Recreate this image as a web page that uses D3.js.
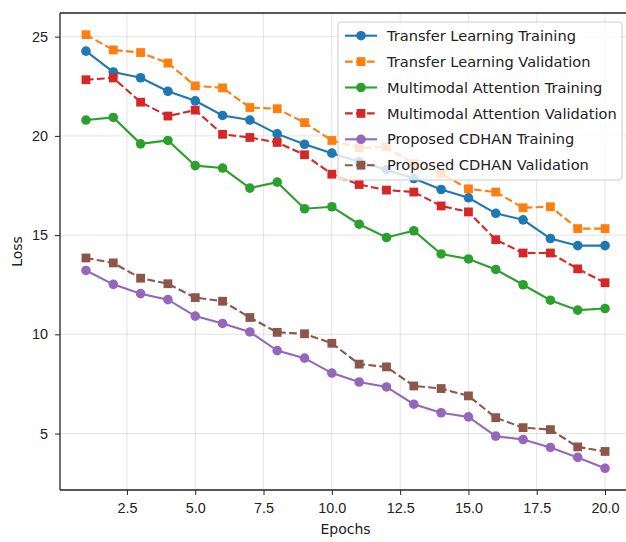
<!DOCTYPE html>
<html>
<head>
<meta charset="utf-8">
<script src="https://cdn.jsdelivr.net/npm/d3@7"></script>
<style>
    body { margin: 0; background: #fff; overflow: hidden; }
    svg { font-family: "DejaVu Sans", sans-serif; display: block; overflow: hidden; }
    .axis text { font-size: 14.4px; fill: #222; }
    .axis line, .axis path { stroke: #222; }
    .grid line { stroke: #b0b0b0; stroke-opacity: 0.45; stroke-width: 0.8; }
</style>
</head>
<body>
<div id="chart"></div>
<script>
const epochs = [1, 2, 3, 4, 5, 6, 7, 8, 9, 10, 11, 12, 13, 14, 15, 16, 17, 18, 19, 20];

const transferTrain = [24.27, 23.22, 22.93, 22.25, 21.77, 21.03, 20.80, 20.10, 19.58, 19.13,
                       18.70, 18.30, 17.85, 17.30, 16.88, 16.10, 15.77, 14.83, 14.47, 14.47];
const transferVal = [25.10, 24.33, 24.20, 23.67, 22.52, 22.42, 21.43, 21.37, 20.67, 19.77,
                     19.40, 19.45, 18.60, 18.10, 17.33, 17.17, 16.38, 16.43, 15.33, 15.33];
const multiTrain = [20.80, 20.93, 19.60, 19.77, 18.50, 18.38, 17.37, 17.67, 16.33, 16.43,
                    15.55, 14.88, 15.22, 14.05, 13.80, 13.27, 12.50, 11.72, 11.22, 11.30];
const multiVal = [22.83, 22.92, 21.70, 21.00, 21.30, 20.08, 19.92, 19.67, 19.05, 18.07,
                  17.55, 17.27, 17.17, 16.47, 16.17, 14.77, 14.10, 14.10, 13.30, 12.60];
const cdhanTrain = [13.22, 12.52, 12.05, 11.75, 10.92, 10.55, 10.12, 9.18, 8.80, 8.05,
                    7.60, 7.35, 6.48, 6.05, 5.84, 4.87, 4.70, 4.30, 3.80, 3.25];
const cdhanVal = [13.85, 13.60, 12.83, 12.55, 11.85, 11.67, 10.85, 10.10, 10.03, 9.55,
                  8.50, 8.36, 7.40, 7.27, 6.90, 5.80, 5.30, 5.20, 4.33, 4.10];

const seriesNames = [
    "Transfer Learning Training", "Transfer Learning Validation",
    "Multimodal Attention Training", "Multimodal Attention Validation",
    "Proposed CDHAN Training", "Proposed CDHAN Validation"
];
const seriesValues = [transferTrain, transferVal, multiTrain, multiVal, cdhanTrain, cdhanVal];
const seriesColors = ["#1f77b4", "#ff7f0e", "#2ca02c", "#d62728", "#9467bd", "#8c564b"];

const xTicks = [2.5, 5.0, 7.5, 10.0, 12.5, 15.0, 17.5, 20.0];
const yTicks = [5, 10, 15, 20, 25];

class LossCurvesChart {
    constructor(parentElement) {
        this.parentElement = parentElement;
        this.margin = {top: 13, right: -5, bottom: 52, left: 60};
        this.initVis();
    }

    initVis() {
        const vis = this;

        vis.series = seriesNames.map((name, i) => ({
            name: name,
            color: seriesColors[i],
            validation: name.endsWith("Validation"),
            values: epochs.map((e, j) => ({epoch: e, loss: seriesValues[i][j]}))
        }));

        const totalW = 626, totalH = 542;
        // axes run slightly past the right edge, like the cropped original
        vis.width = totalW - vis.margin.left - vis.margin.right;
        vis.height = totalH - vis.margin.top - vis.margin.bottom;

        const root = d3.select(`#${vis.parentElement}`).append("svg")
            .attr("width", totalW)
            .attr("height", totalH);

        vis.svg = root.append("g")
            .attr("transform", `translate(${vis.margin.left},${vis.margin.top})`);

        // matplotlib-style 5% padding
        const xExt = d3.extent(epochs);
        const xPad = (xExt[1] - xExt[0]) * 0.05;
        const allLoss = seriesValues.flat();
        const yExt = d3.extent(allLoss);
        const yPad = (yExt[1] - yExt[0]) * 0.05;

        vis.x = d3.scaleLinear()
            .domain([xExt[0] - xPad, xExt[1] + xPad])
            .range([0, vis.width]);
        vis.y = d3.scaleLinear()
            .domain([yExt[0] - yPad, yExt[1] + yPad])
            .range([vis.height, 0]);

        const grid = vis.svg.append("g")
            .attr("class", "grid");

        grid.selectAll("line.gx")
            .data(xTicks)
            .join("line")
            .attr("class", "gx")
            .attr("x1", d => vis.x(d)).attr("x2", d => vis.x(d))
            .attr("y1", 0).attr("y2", vis.height);

        grid.selectAll("line.gy")
            .data(yTicks)
            .join("line")
            .attr("class", "gy")
            .attr("x1", 0).attr("x2", vis.width)
            .attr("y1", d => vis.y(d)).attr("y2", d => vis.y(d));

        vis.line = d3.line()
            .x(d => vis.x(d.epoch))
            .y(d => vis.y(d.loss));

        const groups = vis.svg.selectAll(".series")
            .data(vis.series)
            .join("g")
            .attr("class", "series");

        groups.append("path")
            .attr("fill", "none")
            .attr("stroke", d => d.color)
            .attr("stroke-width", 2.1)
            .attr("stroke-dasharray", d => d.validation ? "7.7,3.3" : null)
            .attr("d", d => vis.line(d.values));

        groups.each(function(s) {
            const g = d3.select(this);
            if (s.validation) {
                g.selectAll("rect")
                    .data(s.values)
                    .join("rect")
                    .attr("x", d => vis.x(d.epoch) - 4.4)
                    .attr("y", d => vis.y(d.loss) - 4.4)
                    .attr("width", 8.8)
                    .attr("height", 8.8)
                    .attr("fill", s.color);
            } else {
                g.selectAll("circle")
                    .data(s.values)
                    .join("circle")
                    .attr("cx", d => vis.x(d.epoch))
                    .attr("cy", d => vis.y(d.loss))
                    .attr("r", 4.8)
                    .attr("fill", s.color);
            }
        });

        vis.svg.append("g")
            .attr("class", "axis x-axis")
            .attr("transform", `translate(0,${vis.height})`)
            .call(d3.axisBottom(vis.x)
                .tickValues(xTicks)
                .tickSize(5)
                .tickPadding(8)
                .tickFormat(d3.format(".1f")))
            .call(g => g.select(".domain").remove());

        vis.svg.append("g")
            .attr("class", "axis y-axis")
            .call(d3.axisLeft(vis.y)
                .tickValues(yTicks)
                .tickSize(5)
                .tickPadding(7))
            .call(g => g.select(".domain").remove());

        // spines: left, top, bottom (right one falls outside the crop)
        const spine = vis.svg.append("g")
            .attr("stroke", "#222")
            .attr("stroke-width", 1.3);
        spine.append("line").attr("x1", 0).attr("x2", 0).attr("y1", 0).attr("y2", vis.height);
        spine.append("line").attr("x1", 0).attr("x2", vis.width).attr("y1", 0).attr("y2", 0);
        spine.append("line").attr("x1", 0).attr("x2", vis.width).attr("y1", vis.height).attr("y2", vis.height);

        vis.svg.append("text")
            .attr("x", vis.width / 2)
            .attr("y", vis.height + 44)
            .attr("text-anchor", "middle")
            .attr("font-size", 14)
            .attr("fill", "#222")
            .text("Epochs");

        vis.svg.append("text")
            .attr("transform", "rotate(-90)")
            .attr("x", -vis.height / 2)
            .attr("y", -38)
            .attr("text-anchor", "middle")
            .attr("font-size", 14)
            .attr("fill", "#222")
            .text("Loss");

        // legend, upper right
        const legend = vis.svg.append("g")
            .attr("transform", `translate(${vis.width - 293},9)`);

        legend.append("rect")
            .attr("width", 284)
            .attr("height", 158)
            .attr("rx", 3)
            .attr("fill", "#fff")
            .attr("fill-opacity", 0.8)
            .attr("stroke", "#ccc");

        const items = legend.selectAll(".legend-item")
            .data(vis.series)
            .join("g")
            .attr("class", "legend-item")
            .attr("transform", (d, i) => `translate(0,${13.7 + i * 25.9})`);

        items.append("line")
            .attr("x1", 7).attr("x2", 39)
            .attr("stroke", d => d.color)
            .attr("stroke-width", 2.1)
            .attr("stroke-dasharray", d => d.validation ? "7.7,3.3" : null);

        items.filter(d => !d.validation).append("circle")
            .attr("cx", 23)
            .attr("r", 4.8)
            .attr("fill", d => d.color);

        items.filter(d => d.validation).append("rect")
            .attr("x", 23 - 4.4).attr("y", -4.4)
            .attr("width", 8.8).attr("height", 8.8)
            .attr("fill", d => d.color);

        items.append("text")
            .attr("x", 49)
            .attr("dy", "0.35em")
            .attr("font-size", 14.6)
            .attr("fill", "#222")
            .text(d => d.name);
    }
}

new LossCurvesChart("chart");
</script>
</body>
</html>
